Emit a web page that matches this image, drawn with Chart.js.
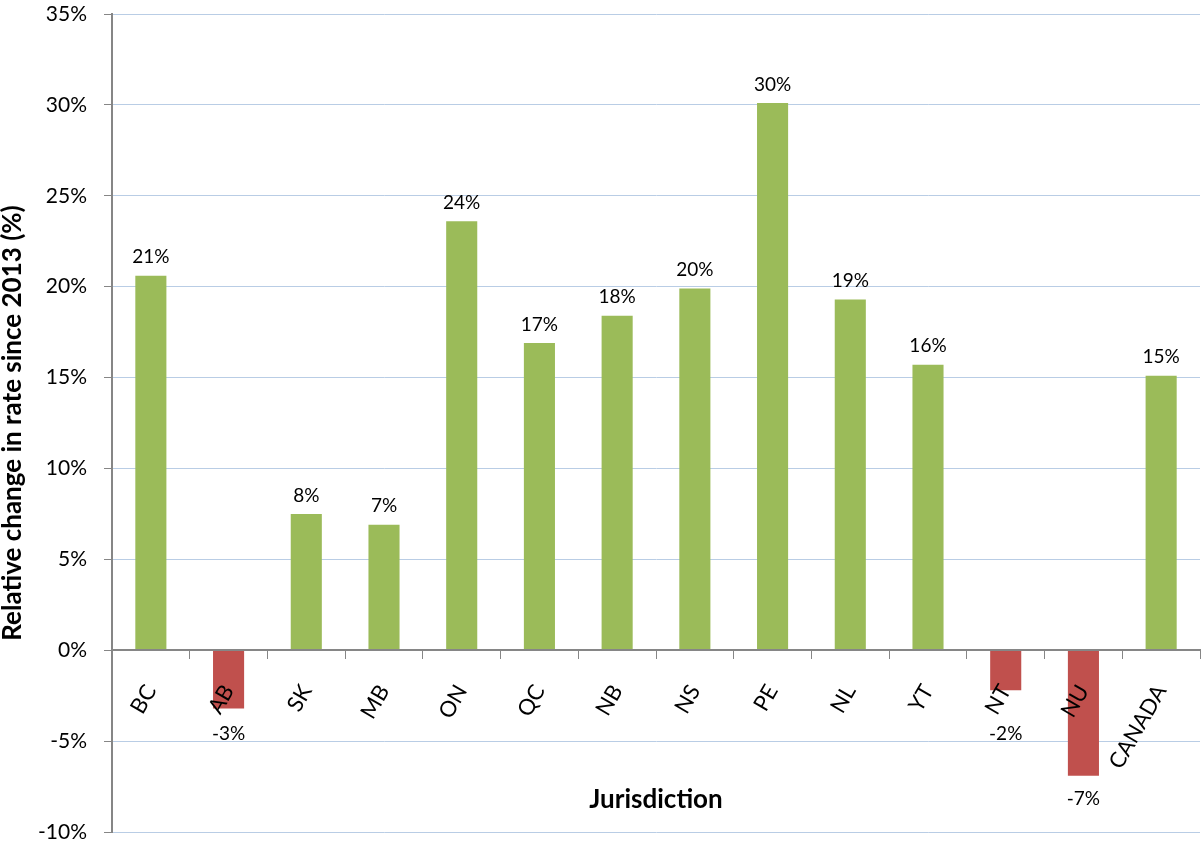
<!DOCTYPE html>
<html>
<head>
<meta charset="utf-8">
<script src="https://cdn.jsdelivr.net/npm/chart.js@4/dist/chart.umd.min.js"></script>
<style>
  html, body { margin: 0; padding: 0; background: #fff; }
  canvas { display: block; }
</style>
</head>
<body>
<canvas id="rateChart" width="1201" height="844"></canvas>
<script>
// jurisdictions and relative change in rate since 2013 (%)
const jurisdictions = ['BC', 'AB', 'SK', 'MB', 'ON', 'QC', 'NB', 'NS', 'PE', 'NL', 'YT', 'NT', 'NU', 'CANADA'];
const relativeChange = [20.6, -3.2, 7.5, 6.9, 23.6, 16.9, 18.4, 19.9, 30.1, 19.3, 15.7, -2.2, -6.9, 15.1];
const yTicks = [-10, -5, 0, 5, 10, 15, 20, 25, 30, 35];

const GREEN = '#9bbb59';
const RED = '#c0504d';
const AXIS_GREY = '#868686';
const GRID_BLUE = '#b9cde5';
const FONT = 'Lato, "Liberation Sans", sans-serif';

// value labels: above positive bars, below negative ones
// (negatives pushed down a bit so they clear the slanted category names)
const valueLabels = {
    id: 'valueLabels',
    afterDraw(chart) {
        const ctx = chart.ctx;
        const zeroY = chart.scales.y.getPixelForValue(0);
        const meta = chart.getDatasetMeta(0);
        ctx.save();
        ctx.font = '19px ' + FONT;
        ctx.fillStyle = '#000';
        ctx.textAlign = 'center';
        meta.data.forEach((bar, i) => {
            const v = relativeChange[i];
            const text = Math.round(v) + '%';
            if (v >= 0) {
                ctx.textBaseline = 'bottom';
                ctx.fillText(text, bar.x, bar.y - 9);
            } else {
                ctx.textBaseline = 'top';
                ctx.fillText(text, bar.x, Math.max(bar.y + 14, zeroY + 74));
            }
        });
        ctx.restore();
    }
};

const ctx = document.getElementById('rateChart').getContext('2d');
const chart = new Chart(ctx, {
    type: 'bar',
    data: {
        labels: jurisdictions,
        datasets: [{
            data: relativeChange,
            backgroundColor: relativeChange.map(v => v >= 0 ? GREEN : RED),
            borderWidth: 0,
            barPercentage: 0.4,
            categoryPercentage: 1.0
        }]
    },
    options: {
        responsive: false,
        animation: false,
        layout: {
            padding: { top: 0, right: 1, bottom: 0, left: 0 }
        },
        plugins: {
            legend: { display: false },
            tooltip: { enabled: false }
        },
        scales: {
            x: {
                position: { y: 0 },
                offset: true,
                afterFit(scale) {
                    // slanted labels fit inside the plot, no extra side room
                    scale.paddingLeft = 0;
                    scale.paddingRight = 0;
                },
                grid: {
                    offset: true,
                    drawOnChartArea: false,
                    tickColor: AXIS_GREY,
                    tickLength: 8,
                    z: 1
                },
                border: { color: AXIS_GREY, width: 2, z: 1 },
                ticks: {
                    z: 1,
                    minRotation: 60,
                    maxRotation: 60,
                    padding: 22,
                    color: '#000',
                    font: { family: FONT, size: 22 }
                },
                title: {
                    display: true,
                    text: 'Jurisdiction',
                    color: '#000',
                    font: { family: FONT, size: 26, weight: 'bold' },
                    padding: { top: -11, bottom: 0 }
                }
            },
            y: {
                min: -10,
                max: 35,
                afterBuildTicks(scale) {
                    scale.ticks = yTicks.map(v => ({ value: v }));
                },
                afterFit(scale) {
                    scale.width = 112;
                    // keep the plot area close to the canvas edges
                    scale.paddingTop = 14;
                    scale.paddingBottom = 12;
                },
                grid: {
                    color: GRID_BLUE,
                    tickColor: AXIS_GREY,
                    tickLength: 8
                },
                border: { color: AXIS_GREY, width: 2 },
                ticks: {
                    padding: 17,
                    color: '#000',
                    font: { family: FONT, size: 21 },
                    callback: v => v + '%'
                },
                title: {
                    display: true,
                    text: 'Relative change in rate since 2013 (%)',
                    color: '#000',
                    font: { family: FONT, size: 26, weight: 'bold' },
                    padding: { top: -3, bottom: 0 }
                }
            }
        }
    },
    plugins: [valueLabels]
});
</script>
</body>
</html>
